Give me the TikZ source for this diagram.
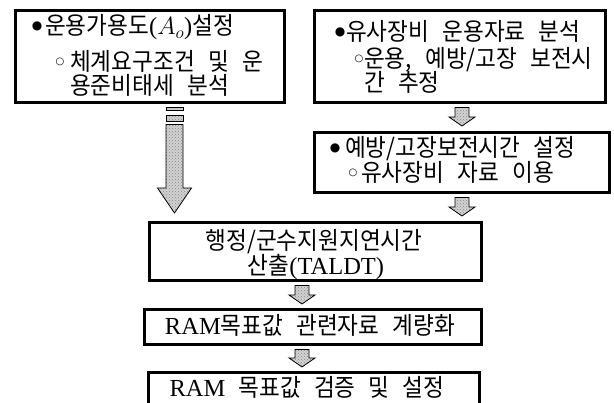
\documentclass[tikz,border=0pt]{standalone}
\usepackage{fontspec}
\setmainfont{Liberation Serif}
\newfontfamily\kr[WordSpace=2.6, FakeStretch=0.93]{Noto Sans CJK KR}
\newfontfamily\sym{DejaVu Sans}
\usetikzlibrary{calc,patterns}
\newcommand\bul{{\sym\fontsize{12}{12}\selectfont ●}}
\newcommand\wbul{{\sym\fontsize{10}{10}\selectfont ○}}
\newcommand\lat[1]{{\rmfamily\fontsize{24.5}{24}\selectfont #1}}
% #1 x, #2 shaft half, #3 head half, #4 head length, #5 from, #6 to, #7 gap top, #8 gap bottom
\newcommand\blockarrow[8]{%
  \draw[blk] let \p1=(#5.south), \p2=(#6.north) in
    (#1-#2,\y1-#7) -- (#1+#2,\y1-#7) -- (#1+#2,\y2+#8+#4) -- (#1+#3,\y2+#8+#4)
    -- (#1,\y2+#8) -- (#1-#3,\y2+#8+#4) -- (#1-#2,\y2+#8+#4) -- cycle;}
\begin{document}
\begin{tikzpicture}[x=1pt,y=-1pt,
  box/.style={draw, line width=2.6pt, inner sep=0pt, anchor=north west},
  txt/.style={inner sep=0pt, font={\kr\fontsize{24.3}{28}\selectfont}},
  bl/.style={inner sep=0pt, anchor=center},
  blk/.style={draw=black, line width=0.8pt, preaction={fill=gray!35}, pattern=crosshatch dots, pattern color=gray!95}]
\useasboundingbox (0,0) rectangle (614,403);
\clip (0,0) rectangle (614,403);
\fill[white] (0,0) rectangle (614,403);
% boxes
\node[box, minimum width=269pt, minimum height=92pt] (A) at (14,9) {};
\node[box, minimum width=291pt, minimum height=92pt] (B) at (313,9) {};
\node[box, minimum width=295pt, minimum height=60pt] (C) at (313,131) {};
\node[box, minimum width=332pt, minimum height=58pt] (D) at (148,221) {};
\node[box, minimum width=337pt, minimum height=35pt] (E) at (143,308) {};
\node[box, minimum width=331pt, minimum height=60pt] (F) at (147,371) {};
% texts A
\node[bl] (a0) at (37,26) {\bul};
\node[txt, anchor=base west] (a1) at (45,35) {운용가용도\lat{(}$\fontsize{24}{24}\selectfont A_o$\lat{)}설정};
\node[bl] (a2b) at (60,62) {\wbul};
\node[txt, anchor=base west] (a2) at (70,71) {체계요구조건 및 운};
\node[txt, anchor=base west] (a3) at (70,95) {용준비태세 분석};
% texts B
\node[bl] (b0) at (340,32) {\bul};
\node[txt, anchor=base west] (b1) at (346,41) {유사장비 운용자료 분석};
\node[bl] (b2b) at (359,59) {\wbul};
\node[txt, anchor=base west] (b2) at (364,68) {운용, 예방/고장 보전시};
\node[txt, anchor=base west] (b3) at (364,92) {간 추정};
% texts C
\node[bl] (c0) at (335,148) {\bul};
\node[txt, anchor=base west] (c1) at (345,157) {예방/고장보전시간 설정};
\node[bl] (c2b) at (353,173) {\wbul};
\node[txt, anchor=base west] (c2) at (361,182) {유사장비 자료 이용};
% texts D, E, F
\node[txt, anchor=base] (d1) at (314,250) {행정/군수지원지연시간};
\node[txt, anchor=base] (d2) at (316,275) {산출\lat{(TALDT)}};
\node[txt, anchor=base] (e1) at (310,335) {\lat{RAM}목표값 관련자료 계량화};
\node[txt, anchor=base] (f1) at (307,397) {\lat{RAM} 목표값 검증 및 설정};
% small block arrows
\blockarrow{462}{7}{13}{9}{B}{C}{4}{5}
\blockarrow{462}{7}{13}{9}{C}{D}{4}{5}
\blockarrow{302}{7}{13}{9}{D}{E}{4}{4}
\blockarrow{302}{7}{13}{9}{E}{F}{4}{4}
% big block arrow A -> D
\draw[blk] let \p1=(A.south) in (166,\y1-4) rectangle (183,\y1-7);
\draw[blk] let \p1=(A.south) in (166,\y1-12) rectangle (183,\y1-18);
\blockarrow{174.5}{8.5}{17}{25}{A}{D}{21}{8}
\end{tikzpicture}
\end{document}
